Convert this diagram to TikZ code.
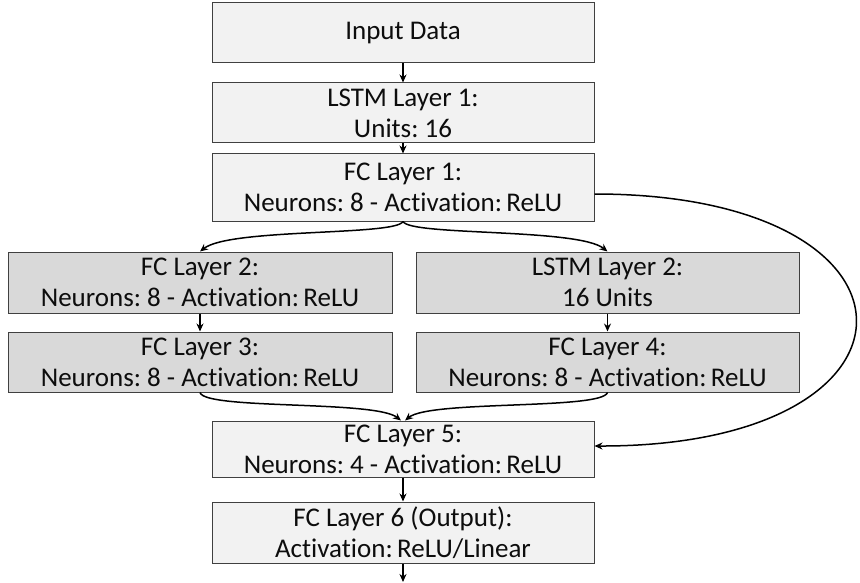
\documentclass[tikz,border=0pt]{standalone}
\usepackage{fontspec}
\setmainfont{Carlito}[Ligatures=NoCommon]
\usetikzlibrary{arrows.meta}
\definecolor{lightbox}{HTML}{F2F2F2}
\definecolor{darkbox}{HTML}{D9D9D9}
\definecolor{edge}{HTML}{404040}
\definecolor{txt}{HTML}{0D0D0D}
\frenchspacing
\begin{document}
\begin{tikzpicture}[x=1pt,y=-1pt,
  boxbase/.style={draw=edge, line width=1pt, inner sep=0pt, align=center, text=txt,
    font=\fontsize{27}{31}\selectfont},
  lightnode/.style={boxbase, fill=lightbox},
  darknode/.style={boxbase, fill=darkbox},
  conn/.style={line width=1.5pt, -{Stealth[length=8pt,width=7pt]}}]
\useasboundingbox (0,0) rectangle (860,583);
\node[lightnode, minimum width=382pt, minimum height=60pt] (in) at (403,33) {Input Data};
\node[lightnode, minimum width=382pt, minimum height=60pt] (l1) at (403,113) {LSTM Layer 1:\\Units: 16};
\node[lightnode, minimum width=382pt, minimum height=67pt] (f1) at (403,187.5) {FC Layer 1:\\Neurons: 8 - Activation:\,ReLU};
\node[darknode, minimum width=384pt, minimum height=61pt] (f2) at (200,282.5) {FC Layer 2:\\Neurons: 8 - Activation:\,ReLU};
\node[darknode, minimum width=383pt, minimum height=61pt] (l2) at (607.5,282.5) {LSTM Layer 2:\\16 Units};
\node[darknode, minimum width=384pt, minimum height=60pt] (f3) at (200,362) {FC Layer 3:\\Neurons: 8 - Activation:\,ReLU};
\node[darknode, minimum width=383pt, minimum height=60pt] (f4) at (607.5,362) {FC Layer 4:\\Neurons: 8 - Activation:\,ReLU};
\node[lightnode, minimum width=382pt, minimum height=56pt] (f5) at (403,449) {FC Layer 5:\\Neurons: 4 - Activation:\,ReLU};
\node[lightnode, minimum width=382pt, minimum height=61pt] (f6) at (403,532.5) {FC Layer 6 (Output):\\Activation:\,ReLU/Linear};
\coordinate (out) at (403,582);
\draw[conn] (in) -- (l1);
\draw[conn] (l1) -- (f1);
\draw[conn] (f1.south) .. controls (396,236) and (230,228) .. (f2.north);
\draw[conn] (f1.south) .. controls (410,236) and (578,228) .. (l2.north);
\draw[conn] (f2) -- (f3);
\draw[conn] (l2) -- (f4);
\draw[conn] (f3.south) .. controls (205,410) and (375,400) .. ([xshift=-2pt]f5.north);
\draw[conn] (f4.south) .. controls (602,410) and (430,400) .. ([xshift=2pt]f5.north);
\draw[conn] ([yshift=-6.5pt]f1.east) .. controls (943,194) and (943,447) .. ([yshift=3pt]f5.east);
\draw[conn] (f5) -- (f6);
\draw[conn] (f6) -- (out);
\end{tikzpicture}
\end{document}
